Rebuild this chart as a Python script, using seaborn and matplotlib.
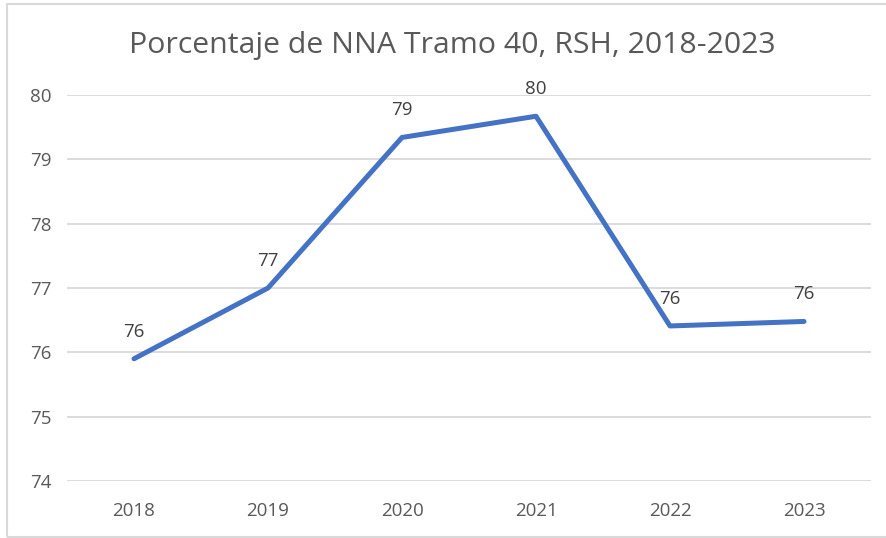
import matplotlib.pyplot as plt
import matplotlib.patches as patches
import numpy as np
import pandas as pd
import seaborn as sns

years = ["2018", "2019", "2020", "2021", "2022", "2023"]
pct = [75.9, 77.0, 79.34, 79.67, 76.41, 76.48]
title = "Porcentaje de NNA Tramo 40, RSH, 2018-2023"

df = pd.DataFrame({"year": years, "pct": pct})

sns.set_theme(style="white")
plt.rcParams["font.family"] = ["Open Sans", "DejaVu Sans"]

fig = plt.figure(figsize=(8.86, 5.38), dpi=100)
ax = fig.add_axes([67 / 886, 1 - 481 / 538, (871 - 67) / 886, (481 - 95) / 538])

sns.lineplot(data=df, x="year", y="pct", ax=ax, color="#4472C4", linewidth=3.6,
             sort=False, solid_capstyle="round", solid_joinstyle="round", zorder=3)

for i, v in enumerate(pct):
    ax.annotate("{:.0f}".format(v), (i, v), xytext=(0, 16), textcoords="offset points",
                ha="center", va="baseline", fontsize=13.5, color="#404040")

ax.set_xlim(-0.5, len(years) - 0.5)
ax.set_ylim(74, 80)
ax.set_yticks(np.arange(74, 81, 1))
ax.yaxis.grid(True, color="#D9D9D9", linewidth=1.3)
ax.xaxis.grid(False)
for s in ax.spines.values():
    s.set_visible(False)
ax.tick_params(axis="both", length=0, labelsize=13.5, colors="#595959")
ax.tick_params(axis="x", pad=15)
ax.tick_params(axis="y", pad=11)
ax.set_xlabel("")
ax.set_ylabel("")

fig.text(452 / 886, 1 - 45 / 538, title, ha="center", va="center", fontsize=21.8, color="#595959")

fig.patches.append(patches.Rectangle((7 / 886, 1 / 538), 1.0, 1 - 5 / 538, transform=fig.transFigure,
                                     fill=False, edgecolor="#D9D9D9", linewidth=1.5))

fig.savefig("out.png", dpi=100)
